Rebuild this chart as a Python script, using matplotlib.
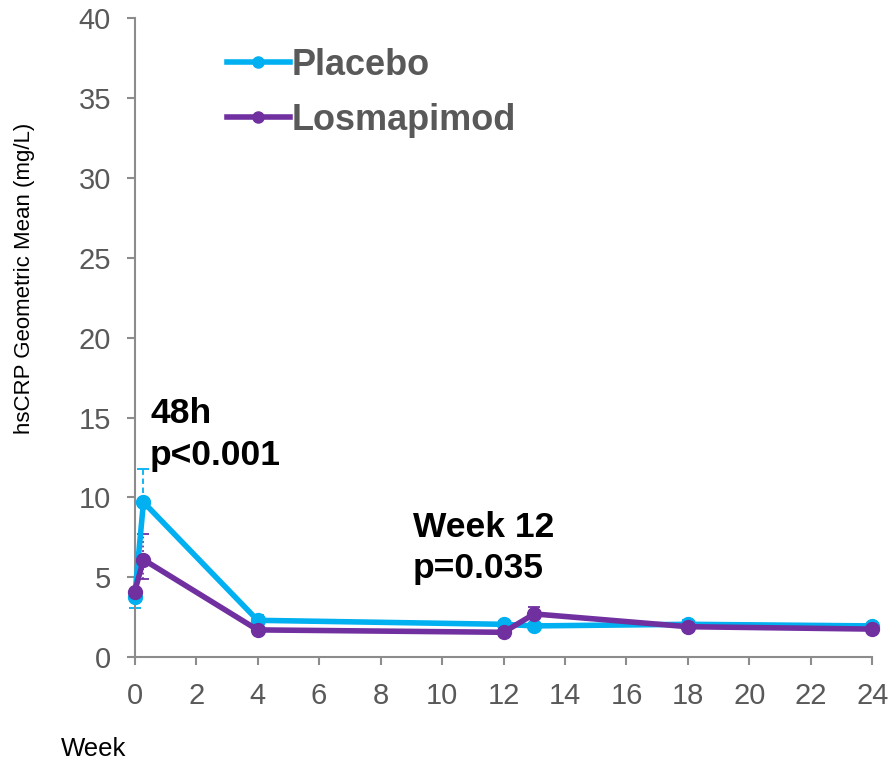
import matplotlib
matplotlib.use("Agg")
import matplotlib.pyplot as plt
from matplotlib.lines import Line2D

plt.rcParams['font.family'] = ['Liberation Sans', 'DejaVu Sans']

# Visit times in weeks (baseline, 48 h, then scheduled visits)
weeks_placebo = [0, 2 / 7, 4, 12, 13, 18, 24]
weeks_losma = [0, 2 / 7, 4, 12, 13, 18, 24]

# hsCRP geometric means (mg/L)
placebo = [3.75, 9.7, 2.3, 2.05, 1.95, 2.05, 1.95]
losmapimod = [4.1, 6.1, 1.7, 1.55, 2.7, 1.9, 1.75]

# Lower / upper error extents
placebo_err_lo = [0.65, 0.0, 0.2, 0.2, 0.2, 0.2, 0.15]
placebo_err_hi = [0.0, 2.1, 0.35, 0.2, 0.2, 0.25, 0.15]
losma_err_lo = [0.0, 1.2, 0.15, 0.1, 0.0, 0.1, 0.1]
losma_err_hi = [0.0, 1.6, 0.1, 0.1, 0.45, 0.1, 0.1]

x_ticks = list(range(0, 25, 2))
y_ticks = list(range(0, 41, 5))

BLUE = '#00B0F0'
PURPLE = '#7030A0'
GRAY = '#595959'
AXIS = '#8C8C8C'

fig = plt.figure(figsize=(8.92, 7.64), dpi=100)
ax = fig.add_axes([0.151, 0.140, 0.827, 0.836])

eb1 = ax.errorbar(weeks_placebo, placebo, yerr=[placebo_err_lo, placebo_err_hi],
                  fmt='none', ecolor=BLUE, elinewidth=1.3, capsize=4, capthick=1.3)
for c in eb1[2]:
    c.set_linestyle((0, (3, 2)))
eb2 = ax.errorbar(weeks_losma, losmapimod, yerr=[losma_err_lo, losma_err_hi],
                  fmt='none', ecolor=PURPLE, elinewidth=1.3, capsize=4, capthick=1.3)
for c in eb2[2]:
    c.set_linestyle((0, (1, 1.5)))

ax.plot(weeks_placebo, placebo, color=BLUE, lw=4, marker='o', ms=10, zorder=3)
ax.plot(weeks_losma, losmapimod, color=PURPLE, lw=4, marker='o', ms=10, zorder=4)

ax.set_xlim(0, 24)
ax.set_ylim(0, 40)
ax.set_xticks(x_ticks)
ax.set_yticks(y_ticks)
ax.tick_params(axis='both', colors=AXIS, labelcolor=GRAY, labelsize=21,
               length=6, width=1.5, direction='out')
ax.tick_params(axis='x', pad=12)
ax.tick_params(axis='y', pad=11)
for s in ('top', 'right'):
    ax.spines[s].set_visible(False)
for s in ('left', 'bottom'):
    ax.spines[s].set_color(AXIS)
    ax.spines[s].set_linewidth(1.5)
for art in ax.get_children():
    try:
        art.set_clip_on(False)
    except Exception:
        pass

fig.text(0.027, 0.636, 'hsCRP Geometric Mean (mg/L)', fontsize=16, color='black',
         rotation=90, ha='center', va='center')
fig.text(0.068, 0.004, 'Week', fontsize=18.5, color='black', ha='left', va='bottom')

ann = dict(fontsize=25.5, fontweight='bold', color='black', ha='left', va='baseline')
ax.text(0.5, 14.65, '48h', **ann)
ax.text(0.5, 12.02, 'p<0.001', **ann)
ax.text(9.05, 7.51, 'Week 12', **ann)
ax.text(9.05, 4.95, 'p=0.035', **ann)

handles = [Line2D([], [], color=BLUE, lw=4, marker='o', ms=8),
           Line2D([], [], color=PURPLE, lw=4, marker='o', ms=8)]
leg = ax.legend(handles, ['Placebo', 'Losmapimod'], loc='upper left',
                bbox_to_anchor=(0.125, 0.954), frameon=False, handlelength=1.75,
                handletextpad=0.05, labelspacing=0.55, borderpad=0,
                borderaxespad=0, prop={'size': 26, 'weight': 'bold'})
for t in leg.get_texts():
    t.set_color(GRAY)

fig.savefig('out.png', dpi=100)
